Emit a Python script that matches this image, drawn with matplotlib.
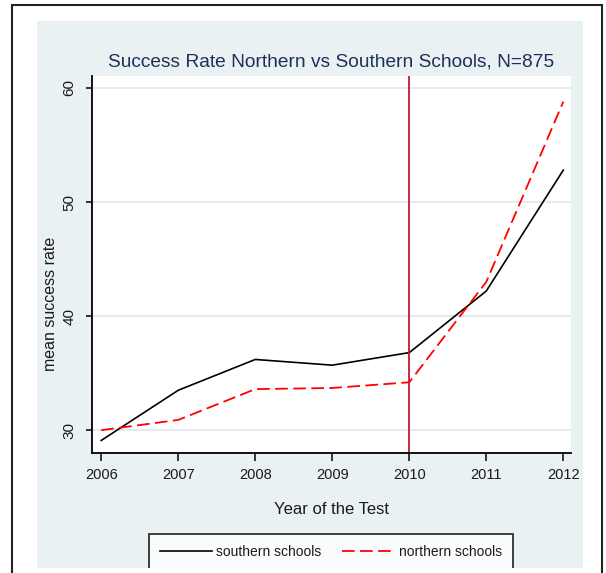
import matplotlib
matplotlib.use("Agg")
import matplotlib.pyplot as plt
from matplotlib.patches import Rectangle

# Datos
anios = [2006, 2007, 2008, 2009, 2010, 2011, 2012]
sur = [29.1, 33.5, 36.2, 35.7, 36.8, 42.2, 52.8]
norte = [30.0, 30.9, 33.6, 33.7, 34.2, 43.0, 58.8]
y_ticks = [30, 40, 50, 60]
anio_corte = 2010

W, H = 606, 573

plt.rcParams['font.family'] = ['Liberation Sans', 'DejaVu Sans']


def fx(x):
    return x / W


def fy(y):
    return 1 - y / H


fig = plt.figure(figsize=(W / 100, H / 100), dpi=100, facecolor='white')

# fondo gris azulado estilo Stata
fig.patches.append(Rectangle((fx(37), fy(568)), fx(583) - fx(37), fy(21) - fy(568),
                             transform=fig.transFigure, facecolor='#eaf1f3',
                             edgecolor='none', zorder=-2))

ax = fig.add_axes([fx(92), fy(453), fx(571) - fx(92), fy(76) - fy(453)])
ax.set_facecolor('white')

ax.plot(anios, sur, color='black', lw=1.2, label='southern schools')
ax.plot(anios, norte, color='#ff0000', lw=1.3, dashes=(7, 3), label='northern schools')
ax.axvline(anio_corte, color='#c8143c', lw=1.3)

ax.set_xlim(2005.88, 2012.1)
ax.set_ylim(28.0, 61.05)
ax.set_xticks(anios)
ax.set_yticks(y_ticks)
ax.yaxis.grid(True, color='#e3ebee', lw=1.3)
ax.set_axisbelow(True)

for s in ['top', 'right']:
    ax.spines[s].set_visible(False)
for s in ['left', 'bottom']:
    ax.spines[s].set_linewidth(1.3)
    ax.spines[s].set_color('black')

ax.tick_params(axis='x', length=6, width=1.1, pad=5, labelsize=10.5, labelcolor='#1a1a1a')
ax.tick_params(axis='y', length=4, width=1.1, pad=7, labelsize=11, labelcolor='#1a1a1a')
for t in ax.get_yticklabels():
    t.set_rotation(90)
    t.set_va('center')

ax.set_title('Success Rate Northern vs Southern Schools, N=875', fontsize=13.8,
             color='#1e2f5c', pad=7)
ax.set_xlabel('Year of the Test', fontsize=12, color='#1a1a1a')
ax.xaxis.set_label_coords(0.501, (453 - 510) / 377)
ax.xaxis.label.set_va('center')
ax.set_ylabel('mean success rate', fontsize=11.5, color='#1a1a1a')
ax.yaxis.set_label_coords((51 - 92) / 479, (453 - 304) / 377)
ax.yaxis.label.set_va('center')

leg = ax.legend(loc='upper left', bbox_to_anchor=(fx(149), fy(534)),
                bbox_transform=fig.transFigure, ncol=2, fontsize=10,
                frameon=True, fancybox=False, edgecolor='black', borderpad=0.8,
                handlelength=3.75, handletextpad=0.3, columnspacing=1.5,
                borderaxespad=0)
leg.get_frame().set_linewidth(1.3)
for t in leg.get_texts():
    t.set_color('#1a1a1a')

# la imagen original esta recortada por abajo
fig.patches.append(Rectangle((fx(13), 0), fx(601) - fx(13), fy(568),
                             transform=fig.transFigure, facecolor='white',
                             edgecolor='none', zorder=5))
# marco exterior
fig.patches.append(Rectangle((fx(12), -0.05), fx(602) - fx(12), fy(5) + 0.05,
                             transform=fig.transFigure, facecolor='none',
                             edgecolor='#222222', lw=1.5, zorder=6))

fig.savefig('out.png', dpi=100, facecolor='white')
